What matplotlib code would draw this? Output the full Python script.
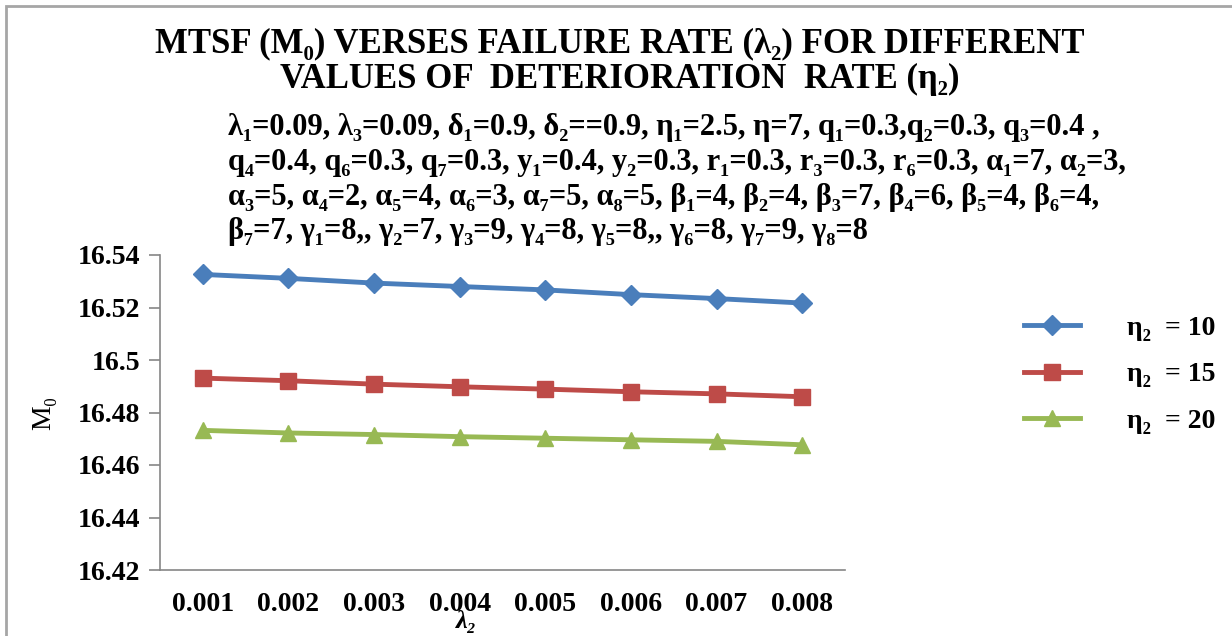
import matplotlib
matplotlib.use("Agg")
import matplotlib.pyplot as plt
from matplotlib.patches import Rectangle

plt.rcParams['font.family'] = ['Liberation Serif', 'DejaVu Serif']
plt.rcParams['font.weight'] = 'bold'

lam2 = ["0.001", "0.002", "0.003", "0.004", "0.005", "0.006", "0.007", "0.008"]
eta10 = [16.5326, 16.5311, 16.5293, 16.5280, 16.5267, 16.5249, 16.5234, 16.5217]
eta15 = [16.4931, 16.4921, 16.4908, 16.4898, 16.4889, 16.4879, 16.4871, 16.4860]
eta20 = [16.4732, 16.4722, 16.4716, 16.4708, 16.4702, 16.4696, 16.4690, 16.4677]
yticks = [16.42, 16.44, 16.46, 16.48, 16.5, 16.52, 16.54]
ytick_labels = ["16.42", "16.44", "16.46", "16.48", "16.5", "16.52", "16.54"]

params = [
    "λ₁=0.09, λ₃=0.09, δ₁=0.9, δ₂==0.9, η₁=2.5, η=7, q₁=0.3,q₂=0.3, q₃=0.4 ,",
    "q₄=0.4, q₆=0.3, q₇=0.3, y₁=0.4, y₂=0.3, r₁=0.3, r₃=0.3, r₆=0.3, α₁=7, α₂=3,",
    "α₃=5, α₄=2, α₅=4, α₆=3, α₇=5, α₈=5, β₁=4, β₂=4, β₃=7, β₄=6, β₅=4, β₆=4,",
    "β₇=7, γ₁=8,, γ₂=7, γ₃=9, γ₄=8, γ₅=8,, γ₆=8, γ₇=9, γ₈=8",
]

fig = plt.figure(figsize=(12.32, 6.36), dpi=100)
ax = fig.add_axes([160 / 1232, 66 / 636, 685 / 1232, 315 / 636])

# outer chart frame
fig.patches.append(Rectangle((6 / 1232, -0.05), 1.1, 0.05 + 630 / 636,
                             transform=fig.transFigure, fill=False,
                             edgecolor='#a6a6a6', linewidth=2))

x = range(len(lam2))
ax.plot(x, eta10, color='#4a7ebb', lw=3.5, marker='D', ms=10, label='η₂  = 10')
ax.plot(x, eta15, color='#be4b48', lw=3.5, marker='s', ms=11, label='η₂  = 15')
ax.plot(x, eta20, color='#98b954', lw=3.5, marker='^', ms=11, label='η₂  = 20')

ax.set_xlim(-0.5, len(lam2) - 0.5)
ax.set_ylim(16.42, 16.54)
ax.set_yticks(yticks)
ax.set_yticklabels(ytick_labels)
ax.set_xticks(list(x))
ax.set_xticklabels(lam2)
ax.tick_params(axis='y', length=8, width=1.2, color='#868686', labelsize=20, pad=6)
ax.tick_params(axis='x', length=0, labelsize=20, pad=16)
for s in ['top', 'right']:
    ax.spines[s].set_visible(False)
for s in ['left', 'bottom']:
    ax.spines[s].set_color('#868686')
    ax.spines[s].set_linewidth(1.2)

ax.set_ylabel("M₀", fontsize=20, labelpad=16)
ax.text(0.447, -0.165, "λ₂", transform=ax.transAxes, fontsize=19,
        style='italic', ha='center', va='center')

fig.text(620 / 1232, 1 - 44 / 636, "MTSF (M₀) VERSES FAILURE RATE (λ₂) FOR DIFFERENT",
         ha='center', va='center', fontsize=25)
fig.text(620 / 1232, 1 - 79 / 636, "VALUES OF  DETERIORATION  RATE (η₂)",
         ha='center', va='center', fontsize=25)
for i, line in enumerate(params):
    fig.text(228 / 1232, 1 - (128 + i * 34.5) / 636, line,
             ha='left', va='center', fontsize=22)

ax.legend(loc='center left', bbox_to_anchor=(1.225, 0.62), frameon=False,
          fontsize=20, handlelength=2.0, labelspacing=0.75, handletextpad=1.7)

fig.savefig("out.png", dpi=100)
